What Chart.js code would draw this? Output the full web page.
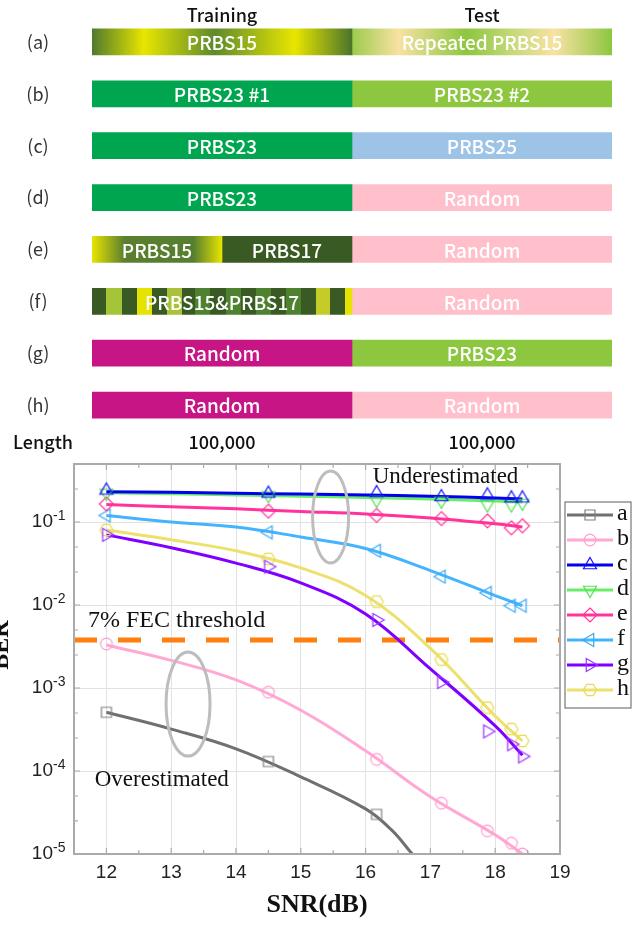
<!DOCTYPE html>
<html>
<head>
<meta charset="utf-8">
<script src="https://cdn.jsdelivr.net/npm/chart.js@4.4.1/dist/chart.umd.min.js"></script>
<style>
  html, body { margin: 0; padding: 0; background: #fff; }
  #wrap { position: relative; width: 635px; height: 925px; }
  #schemeBox { position: absolute; left: 0; top: 0; }
  #berBox { position: absolute; left: 0; top: 455px; }
</style>
</head>
<body>
<div id="wrap">
  <div id="schemeBox"><canvas id="schemeCanvas" width="635" height="455"></canvas></div>
  <div id="berBox"><canvas id="berCanvas" width="635" height="470"></canvas></div>
</div>
<script>
// ---- dataset scheme (top) ----
const cases = ['(a)', '(b)', '(c)', '(d)', '(e)', '(f)', '(g)', '(h)'];
const phaseLabels = ['Training', 'Test'];
const lengthLabels = ['100,000', '100,000'];
const trainSpans = [[0, 1], [0, 1], [0, 1], [0, 1], [0, 0.5], [0, 1], [0, 1], [0, 1]];
const train2Spans = [null, null, null, null, [0.5, 1], null, null, null];
const testSpans = [[1, 2], [1, 2], [1, 2], [1, 2], [1, 2], [1, 2], [1, 2], [1, 2]];
const trainTexts = ['PRBS15', 'PRBS23 #1', 'PRBS23', 'PRBS23', 'PRBS15', 'PRBS15&PRBS17', 'Random', 'Random'];
const train2Texts = [null, null, null, null, 'PRBS17', null, null, null];
const testTexts = ['Repeated PRBS15', 'PRBS23 #2', 'PRBS25', 'Random', 'Random', 'Random', 'PRBS23', 'Random'];

// ---- BER vs SNR (bottom) ----
const seriesNames = ['a', 'b', 'c', 'd', 'e', 'f', 'g', 'h'];
// measured points (markers)
const snr = [12, 14.5, 16.17, 17.17, 17.88, 18.25, 18.42];
const berA = [5.1e-4, 1.3e-4, 3.0e-5];
const berB = [3.4e-3, 8.9e-4, 1.38e-4, 4.1e-5, 1.9e-5, 1.35e-5, 1.0e-5];
const berC = [0.24, 0.22, 0.224, 0.2, 0.21, 0.193, 0.193];
const berD = [0.225, 0.21, 0.184, 0.18, 0.162, 0.162, 0.17];
const berE = [0.165, 0.135, 0.12, 0.11, 0.103, 0.085, 0.09];
const berF = [0.12, 0.075, 0.045, 0.022, 0.014, 0.0098, 0.0098];
const berG = [0.07, 0.029, 0.0066, 0.00118, 0.0003, 0.00021, 0.00015];
const berH = [0.08, 0.036, 0.011, 0.0022, 0.00058, 0.00032, 0.00023];
// fitted curves (solid lines)
const fitSnr = [12, 13, 14, 15, 16, 17, 18, 18.42];
const fitSnrA = [12, 13, 14, 15, 16, 16.4, 16.72];
const fitA = [5.1e-4, 3.2e-4, 1.85e-4, 8.5e-5, 3.5e-5, 1.95e-5, 1.0e-5];
const fitB = [3.3e-3, 2.15e-3, 1.25e-3, 5.4e-4, 1.75e-4, 4.9e-5, 1.7e-5, 1.0e-5];
const fitC = [0.232, 0.228, 0.222, 0.217, 0.212, 0.205, 0.195, 0.19];
const fitD = [0.225, 0.219, 0.212, 0.205, 0.197, 0.189, 0.179, 0.175];
const fitE = [0.162, 0.153, 0.144, 0.134, 0.125, 0.112, 0.095, 0.087];
const fitF = [0.12, 0.1, 0.087, 0.066, 0.048, 0.026, 0.013, 0.0098];
const fitG = [0.07, 0.049, 0.032, 0.0185, 0.0078, 0.0017, 0.00035, 0.000155];
const fitH = [0.08, 0.061, 0.045, 0.028, 0.013, 0.003, 0.00046, 0.00023];
const fecThreshold = 3.8e-3;
const snrTicks = [12, 13, 14, 15, 16, 17, 18, 19];
const berTickExps = [-1, -2, -3, -4, -5];

// ---------- top scheme ----------
const GREEN = '#00a54f', LIME = '#8dc63f', SKY = '#9dc3e6', PINK = '#ffc0cb',
      MAGENTA = '#c71585', DARK = '#3a5a23';

function hGradient(chart, from, to, stops) {
  const x = chart.scales.x;
  const g = chart.ctx.createLinearGradient(x.getPixelForValue(from), 0, x.getPixelForValue(to), 0);
  stops.forEach(s => g.addColorStop(s[0], s[1]));
  return g;
}

// stripe pattern of (f)
const stripeEdges = [12, 55, 100, 145, 190, 235, 280, 320, 365, 410, 455, 500, 545, 590, 635, 680, 720, 765, 787];
const stripeColors = ['#a4c53a', '#e6e300', '#a9c23a', '#4e8231', '#4e8231', '#4e8231', '#4e8231', '#c5cc2a', '#e6e300'];
function stripeStops() {
  const stops = [];
  for (let k = 0; k < stripeEdges.length - 1; k++) {
    const a = (stripeEdges[k] - 12) / 775, b = (stripeEdges[k + 1] - 12) / 775;
    const c = k % 2 === 0 ? DARK : stripeColors[(k - 1) / 2];
    stops.push([a, c], [Math.min(b, 1), c]);
  }
  return stops;
}

function trainFill(ctx) {
  const chart = ctx.chart, i = ctx.dataIndex;
  if (!chart.chartArea) return GREEN;
  if (i === 0) return hGradient(chart, 0, 1, [[0, '#4f7a2e'], [0.2, '#e8e600'], [0.47, '#5e8a2c'], [0.78, '#e8e600'], [1, '#4a742c']]);
  if (i === 4) return hGradient(chart, 0, 0.5, [[0, '#e8e400'], [0.25, '#5a7f2e'], [0.78, '#557f30'], [1, '#e8e400']]);
  if (i === 5) return hGradient(chart, 0, 1, stripeStops());
  if (i >= 6) return MAGENTA;
  return GREEN;
}

function testFill(ctx) {
  const chart = ctx.chart, i = ctx.dataIndex;
  if (!chart.chartArea) return PINK;
  if (i === 0) return hGradient(chart, 1, 2, [[0, '#9ccb4c'], [0.18, '#f8e2a2'], [0.44, '#8dc63f'], [0.62, '#c8d97a'], [0.78, '#f8e2a2'], [1, '#8dc63f']]);
  if (i === 1 || i === 6) return LIME;
  if (i === 2) return SKY;
  return PINK;
}

const schemeText = {
  id: 'schemeText',
  afterDatasetsDraw(chart) {
    const { ctx, scales: { x, y } } = chart;
    ctx.save();
    ctx.textAlign = 'center';
    ctx.textBaseline = 'middle';
    chart.data.datasets.forEach((ds, di) => {
      chart.getDatasetMeta(di).data.forEach((bar, i) => {
        const txt = ds.texts[i];
        if (!txt) return;
        const p = bar.getProps(['x', 'base', 'y'], true);
        ctx.fillStyle = '#fff';
        ctx.font = '500 19px "Noto Sans CJK SC", "Noto Sans", sans-serif';
        ctx.fillText(txt, (p.x + p.base) / 2, p.y + 1);
      });
    });
    ctx.fillStyle = '#333';
    ctx.font = '18px "Noto Sans CJK SC", "Noto Sans", sans-serif';
    cases.forEach((c, i) => ctx.fillText(c, 38, y.getPixelForValue(i)));
    ctx.fillStyle = '#111';
    ctx.font = '500 18px "Noto Sans CJK SC", "Noto Sans", sans-serif';
    phaseLabels.forEach((t, k) => ctx.fillText(t, x.getPixelForValue(k + 0.5), 15));
    ctx.fillText('Length', 43, 442);
    lengthLabels.forEach((t, k) => ctx.fillText(t, x.getPixelForValue(k + 0.5), 442));
    ctx.restore();
  }
};

new Chart(document.getElementById('schemeCanvas'), {
  type: 'bar',
  data: {
    labels: cases,
    datasets: [
      { label: 'Training', data: trainSpans, texts: trainTexts, backgroundColor: trainFill },
      { label: 'Training 2', data: train2Spans, texts: train2Texts, backgroundColor: DARK },
      { label: 'Test', data: testSpans, texts: testTexts, backgroundColor: testFill }
    ]
  },
  options: {
    indexAxis: 'y',
    responsive: false,
    animation: false,
    devicePixelRatio: 1,
    layout: { padding: { left: 92, right: 23, top: 16, bottom: 24 } },
    datasets: { bar: { grouped: false, barThickness: 26, borderWidth: 0 } },
    scales: {
      x: { type: 'linear', min: 0, max: 2, display: false },
      y: { display: false }
    },
    plugins: { legend: { display: false }, tooltip: { enabled: false } }
  },
  plugins: [schemeText]
});

// ---------- bottom BER chart ----------
function markerImage(shape, color) {
  const c = document.createElement('canvas');
  c.width = 20; c.height = 20;
  const g = c.getContext('2d');
  g.strokeStyle = color;
  g.lineWidth = 1.2;
  g.translate(10, 10);
  g.beginPath();
  const poly = (r, start, n) => {
    for (let k = 0; k < n; k++) {
      const a = (start + k * 360 / n) * Math.PI / 180;
      k === 0 ? g.moveTo(r * Math.cos(a), r * Math.sin(a)) : g.lineTo(r * Math.cos(a), r * Math.sin(a));
    }
    g.closePath();
  };
  if (shape === 'square') g.rect(-5, -5, 10, 10);
  else if (shape === 'circle') g.arc(0, 0, 5.8, 0, Math.PI * 2);
  else if (shape === 'up') poly(7.5, -90, 3);
  else if (shape === 'down') poly(7.5, 90, 3);
  else if (shape === 'left') poly(7.5, 180, 3);
  else if (shape === 'right') poly(7.5, 0, 3);
  else if (shape === 'diamond') poly(7, -90, 4);
  else if (shape === 'hexagon') poly(6.5, 0, 6);
  g.stroke();
  return c;
}

const lineColors = ['#707070', '#ffa8d4', '#0000ee', '#66ee66', '#ff3399', '#44b4ff', '#7f00ff', '#ece16c'];
const markColors = ['#808080', '#ff9fcf', '#1010ff', '#55e055', '#ff3399', '#3aa8f5', '#9933ff', '#e8dc55'];
const shapes = ['square', 'circle', 'up', 'down', 'diamond', 'left', 'right', 'hexagon'];
const berSeries = [berA, berB, berC, berD, berE, berF, berG, berH];
const fitSeries = [fitA, fitB, fitC, fitD, fitE, fitF, fitG, fitH];
const markers = shapes.map((s, i) => markerImage(s, markColors[i]));

const fitSets = fitSeries.map((vals, i) => {
  const xs = i === 0 ? fitSnrA : fitSnr;
  return {
    label: seriesNames[i] + ' fit',
    data: vals.map((v, k) => ({ x: xs[k], y: v })),
    borderColor: lineColors[i],
    borderWidth: 3,
    tension: 0.4,
    pointRadius: 0,
    fill: false,
    order: 2
  };
});

const markerSets = berSeries.map((vals, i) => ({
  label: seriesNames[i],
  data: vals.map((v, k) => ({ x: snr[k], y: v })),
  showLine: false,
  borderColor: markColors[i],
  pointStyle: markers[i],
  pointRadius: 8,
  order: 1
}));

const thresholdSet = {
  label: '7% FEC threshold',
  data: [{ x: 11.5, y: fecThreshold }, { x: 19, y: fecThreshold }],
  borderColor: '#ff7f0e',
  borderWidth: 5,
  borderDash: [23, 21],
  pointRadius: 0,
  order: 10
};

const berDecor = {
  id: 'berDecor',
  afterDatasetsDraw(chart) {
    const { ctx, scales: { x, y } } = chart;
    ctx.save();
    // annotations
    ctx.fillStyle = '#111';
    ctx.textBaseline = 'middle';
    ctx.textAlign = 'left';
    ctx.font = '23px "Liberation Serif", "Times New Roman", serif';
    ctx.fillText('Underestimated', x.getPixelForValue(16.11), y.getPixelForValue(0.348));
    ctx.font = '24px "Liberation Serif", "Times New Roman", serif';
    ctx.fillText('7% FEC threshold', x.getPixelForValue(11.715), y.getPixelForValue(6.4e-3));
    ctx.font = '23px "Liberation Serif", "Times New Roman", serif';
    ctx.fillText('Overestimated', x.getPixelForValue(11.82), y.getPixelForValue(7.9e-5));
    ctx.strokeStyle = '#bdbdbd';
    ctx.lineWidth = 3;
    [[15.46, 0.115, 18, 46], [13.26, 6.4e-4, 22, 52]].forEach(e => {
      ctx.beginPath();
      ctx.ellipse(x.getPixelForValue(e[0]), y.getPixelForValue(e[1]), e[2], e[3], 0, 0, Math.PI * 2);
      ctx.stroke();
    });
    ctx.restore();
  },
  afterDraw(chart) {
    const { ctx, chartArea: ca, scales: { x, y } } = chart;
    ctx.save();
    // frame + minor ticks
    ctx.strokeStyle = '#aaaaaa';
    ctx.lineWidth = 2;
    ctx.strokeRect(ca.left, ca.top, ca.right - ca.left, ca.bottom - ca.top);
    ctx.lineWidth = 1.2;
    ctx.beginPath();
    for (let v = 11.5; v <= 19; v += 0.5) {
      const px = x.getPixelForValue(v);
      const len = Number.isInteger(v) ? 6 : 4;
      ctx.moveTo(px, ca.bottom); ctx.lineTo(px, ca.bottom - len);
      ctx.moveTo(px, ca.top); ctx.lineTo(px, ca.top + len);
    }
    berTickExps.concat([0]).forEach(e => {
      [1, 2.5, 5].forEach(m => {
        const v = m * Math.pow(10, e - 1);
        if (v < 1e-5 || v > 0.5) return;
        const py = y.getPixelForValue(v);
        const len = m === 1 ? 6 : 4;
        ctx.moveTo(ca.left, py); ctx.lineTo(ca.left + len, py);
        ctx.moveTo(ca.right, py); ctx.lineTo(ca.right - len, py);
      });
    });
    ctx.stroke();
    // y tick labels 10^n
    ctx.fillStyle = '#222';
    ctx.textBaseline = 'middle';
    berTickExps.forEach(e => {
      const py = y.getPixelForValue(Math.pow(10, e));
      ctx.textAlign = 'right';
      ctx.font = '19px "Liberation Sans", Arial, sans-serif';
      ctx.fillText('10', 53, py);
      ctx.textAlign = 'left';
      ctx.font = '14px "Liberation Sans", Arial, sans-serif';
      ctx.fillText('-' + Math.abs(e), 53, py - 6);
    });
    // y title
    ctx.save();
    ctx.translate(8, 645 - 455);
    ctx.rotate(-Math.PI / 2);
    ctx.textAlign = 'center';
    ctx.textBaseline = 'alphabetic';
    ctx.font = 'bold 24px "Liberation Serif", "Times New Roman", serif';
    ctx.fillStyle = '#111';
    ctx.fillText('BER', 0, 0);
    ctx.restore();
    // legend
    const lx = 565, ly = 47, lw = 66, lh = 206;
    ctx.fillStyle = '#fff';
    ctx.fillRect(lx, ly, lw, lh);
    ctx.strokeStyle = '#777';
    ctx.lineWidth = 1.2;
    ctx.strokeRect(lx, ly, lw, lh);
    seriesNames.forEach((n, i) => {
      const cy = ly + 13 + i * 25;
      ctx.strokeStyle = lineColors[i];
      ctx.lineWidth = 3;
      ctx.beginPath();
      ctx.moveTo(lx + 2, cy); ctx.lineTo(lx + 48, cy);
      ctx.stroke();
      ctx.drawImage(markers[i], lx + 25 - 10, cy - 10);
      ctx.fillStyle = '#111';
      ctx.font = '24px "Liberation Serif", "Times New Roman", serif';
      ctx.textAlign = 'left';
      ctx.textBaseline = 'middle';
      ctx.fillText(n, lx + 52, cy - 1);
    });
    ctx.restore();
  }
};

new Chart(document.getElementById('berCanvas'), {
  type: 'line',
  data: { datasets: [thresholdSet].concat(fitSets, markerSets) },
  options: {
    responsive: false,
    animation: false,
    devicePixelRatio: 1,
    layout: { padding: { left: 0, right: 75, top: 8, bottom: 0 } },
    scales: {
      x: {
        type: 'linear', min: 11.5, max: 19,
        afterBuildTicks: s => { s.ticks = snrTicks.map(v => ({ value: v })); },
        afterFit: s => { s.height = 71; },
        grid: { color: '#e2e2e2', drawTicks: false },
        border: { display: false },
        ticks: { color: '#222', padding: 7, font: { family: '"Liberation Sans", Arial, sans-serif', size: 19 } },
        title: {
          display: true, text: 'SNR(dB)', color: '#111',
          padding: { top: 0, bottom: 4 },
          font: { family: '"Liberation Serif", "Times New Roman", serif', size: 26, weight: 'bold' }
        }
      },
      y: {
        type: 'logarithmic', min: 1e-5, max: 0.5,
        afterBuildTicks: s => { s.ticks = berTickExps.map(e => ({ value: Math.pow(10, e) })); },
        afterFit: s => { s.width = 74; },
        grid: { color: '#e2e2e2', drawTicks: false },
        border: { display: false },
        ticks: { display: false }
      }
    },
    plugins: { legend: { display: false }, tooltip: { enabled: false } }
  },
  plugins: [berDecor]
});
</script>
</body>
</html>
